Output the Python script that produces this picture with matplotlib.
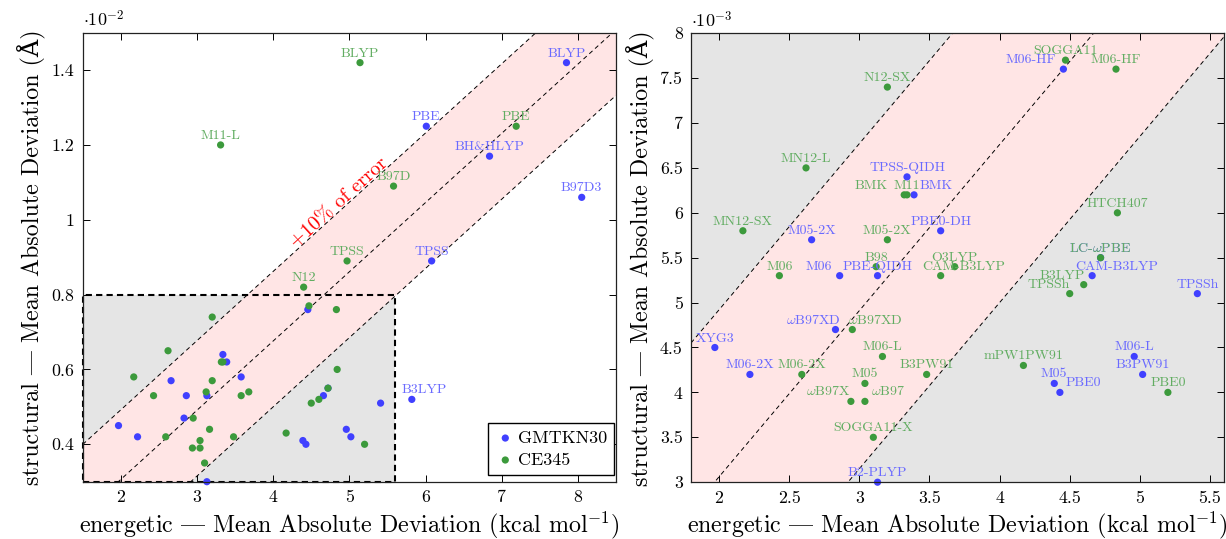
import numpy as np
import matplotlib
matplotlib.use("Agg")
import matplotlib.pyplot as plt
from matplotlib.patches import Rectangle
from matplotlib.ticker import FuncFormatter

plt.rcParams['font.family'] = ['cmr10', 'DejaVu Serif']
plt.rcParams['mathtext.fontset'] = 'cm'
plt.rcParams['axes.unicode_minus'] = False

# GMTKN30 (blue): energetic MAD (kcal/mol), structural MAD (Angstrom)
gm_names = ['BLYP', 'PBE', 'BH&HLYP', 'B97D3', 'TPSS', 'B3LYP', 'M06-HF',
            'TPSS-QIDH', 'BMK', 'PBE0-DH', 'M05-2X', 'LC-ωPBE', 'M06',
            'PBE-QIDH', 'CAM-B3LYP', 'TPSSh', 'ωB97XD', 'XYG3', 'M06-L',
            'M06-2X', 'B3PW91', 'M05', 'PBE0', 'B2-PLYP']
gm_energy = [7.85, 6.01, 6.84, 8.05, 6.08, 5.82, 4.455,
             3.34, 3.39, 3.58, 2.66, 4.72, 2.86,
             3.13, 4.66, 5.41, 2.83, 1.97, 4.96,
             2.22, 5.02, 4.39, 4.43, 3.13]
gm_struct = [0.0142, 0.0125, 0.0117, 0.0106, 0.0089, 0.0052, 0.0076,
             0.0064, 0.0062, 0.0058, 0.0057, 0.0055, 0.0053,
             0.0053, 0.0053, 0.0051, 0.0047, 0.0045, 0.0044,
             0.0042, 0.0042, 0.0041, 0.0040, 0.0030]

# CE345 (green)
ce_names = ['BLYP', 'PBE', 'M11-L', 'B97D', 'TPSS', 'N12', 'SOGGA11',
            'M06-HF', 'N12-SX', 'MN12-L', 'BMK', 'M11', 'HTCH407',
            'MN12-SX', 'M05-2X', 'LC-ωPBE', 'B98', 'O3LYP', 'M06',
            'CAM-B3LYP', 'B3LYP', 'TPSSh', 'ωB97XD', 'M06-L', 'mPW1PW91',
            'M06-2X', 'B3PW91', 'M05', 'PBE0', 'ωB97X', 'ωB97', 'SOGGA11-X']
ce_energy = [5.14, 7.19, 3.31, 5.58, 4.97, 4.40, 4.47,
             4.83, 3.20, 2.62, 3.32, 3.34, 4.84,
             2.17, 3.20, 4.72, 3.12, 3.68, 2.43,
             3.58, 4.60, 4.50, 2.95, 3.165, 4.17,
             2.59, 3.48, 3.04, 5.20, 2.94, 3.04, 3.10]
ce_struct = [0.0142, 0.0125, 0.0120, 0.0109, 0.0089, 0.0082, 0.0077,
             0.0076, 0.0074, 0.0065, 0.0062, 0.0062, 0.0060,
             0.0058, 0.0057, 0.0055, 0.0054, 0.0054, 0.0053,
             0.0053, 0.0052, 0.0051, 0.0047, 0.0044, 0.0043,
             0.0042, 0.0042, 0.0041, 0.0040, 0.0039, 0.0039, 0.0035]

# dashed lines: structural = slope * energetic + intercept
band_slope = 0.00185
band_upper = 0.00122
band_mid = -0.00064
band_lower = -0.0024

# zoomed region shown on the right
box_x = (1.5, 5.6)
box_y = (0.003, 0.008)

BLUE_DOT, BLUE_TXT = '#4040ff', '#6a6aff'
GREEN_DOT, GREEN_TXT = '#3c9a3c', '#62ad62'
PINK, GRAY = '#ffe5e5', '#e5e5e5'

# labels that are not centred above their point: (ha, x shift in pixels)
label_shift = {
    ('GMTKN30', 'M06-HF'): ('right', -7),
    ('GMTKN30', 'BMK'): ('left', 6),
    ('GMTKN30', 'M06'): ('right', -8),
    ('GMTKN30', 'CAM-B3LYP'): ('left', -17),
    ('GMTKN30', 'ωB97XD'): ('right', 5),
    ('GMTKN30', 'PBE0'): ('left', 6),
    ('GMTKN30', 'B3LYP'): ('left', -10),
    ('CE345', 'BMK'): ('right', -17),
    ('CE345', 'M11'): ('center', 0),
    ('CE345', 'CAM-B3LYP'): ('left', -18),
    ('CE345', 'B3LYP'): ('right', 1),
    ('CE345', 'TPSSh'): ('right', 0),
    ('CE345', 'ωB97XD'): ('left', -4),
    ('CE345', 'ωB97X'): ('right', 0),
    ('CE345', 'ωB97'): ('left', 6),
}

# cmr10 keeps the TeX text encoding: '|' is the em dash glyph there
DASH = '|'


def draw_band(ax, x0, x1):
    xs = np.array([x0, x1])
    ax.fill_between(xs, band_slope * xs + band_lower, band_slope * xs + band_upper,
                    color=PINK, lw=0, zorder=1)
    for b in (band_upper, band_mid, band_lower):
        ax.plot(xs, band_slope * xs + b, color='k', lw=0.7, ls=(0, (4.5, 3.5)), zorder=2)


def draw_points(ax, series, names, ex, st, dot, txt, in_box_labels, xlim, ylim):
    ex = np.array(ex)
    st = np.array(st)
    keep = (ex >= xlim[0]) & (ex <= xlim[1]) & (st >= ylim[0] - 1e-9) & (st <= ylim[1])
    sc = ax.scatter(ex[keep], st[keep], s=27, color=dot, edgecolors='none',
                    zorder=4, clip_on=False, label=series)
    for n, x, y, k in zip(names, ex, st, keep):
        if not k:
            continue
        inside = box_x[0] <= x <= box_x[1] and box_y[0] <= y <= box_y[1]
        if inside != in_box_labels:
            continue
        ha, dx = label_shift.get((series, n), ('center', 0))
        ax.annotate(n.replace('ω', r'$\omega$'), (x, y), xytext=(dx, 6),
                    textcoords='offset pixels', ha=ha, va='baseline',
                    color=txt, fontsize=10, zorder=5)
    return sc


def style_axes(ax, scale, power):
    ax.tick_params(direction='in', top=True, right=True, length=5, width=0.7,
                   labelsize=12.8, pad=6)
    ax.yaxis.set_major_formatter(FuncFormatter(lambda v, p: '%g' % round(v / scale, 6)))
    ax.xaxis.set_major_formatter(FuncFormatter(lambda v, p: '%g' % round(v, 6)))
    for s in ax.spines.values():
        s.set_linewidth(0.9)
        s.set_color('#222222')
        s.set_zorder(6)
    ax.text(0.0, 1.014, r'$\cdot10^{-%d}$' % power, transform=ax.transAxes,
            fontsize=13, ha='left', va='baseline')
    ax.set_xlabel('energetic ' + DASH + r' Mean Absolute Deviation (kcal mol$^{-1}$)',
                  fontsize=17.3)
    ax.set_ylabel('structural ' + DASH + ' Mean Absolute Deviation (Å)', fontsize=17.3)
    ax.xaxis.set_label_coords(0.5, -0.061)
    ax.yaxis.set_label_coords(-0.068, 0.5)


fig = plt.figure(figsize=(12.26, 5.39), dpi=100)

# left: full range
ax1 = fig.add_axes([82.7 / 1226, 57.3 / 539, 533.3 / 1226, 449 / 539])
xl1, yl1 = (1.5, 8.5), (0.003, 0.015)
ax1.add_patch(Rectangle((box_x[0], box_y[0]), box_x[1] - box_x[0], box_y[1] - box_y[0],
                        facecolor=GRAY, edgecolor='none', zorder=0.5))
draw_band(ax1, xl1[0], xl1[1])
ax1.add_patch(Rectangle((box_x[0], box_y[0]), box_x[1] - box_x[0], box_y[1] - box_y[0],
                        fill=False, edgecolor='k', lw=1.5, ls=(0, (3, 2)), zorder=3,
                        clip_on=False))
h1 = draw_points(ax1, 'GMTKN30', gm_names, gm_energy, gm_struct, BLUE_DOT, BLUE_TXT,
                 False, xl1, yl1)
h2 = draw_points(ax1, 'CE345', ce_names, ce_energy, ce_struct, GREEN_DOT, GREEN_TXT,
                 False, xl1, yl1)
ax1.text(4.877, 0.01044, '+10% of error', color='red', fontsize=14.5, rotation=42.4,
         rotation_mode='anchor', ha='center', va='center', zorder=5)
ax1.set_xlim(xl1)
ax1.set_ylim(yl1)
ax1.set_xticks(range(2, 9))
ax1.set_yticks(np.arange(0.004, 0.0141, 0.002))
style_axes(ax1, 1e-2, 2)
leg = ax1.legend(handles=[h1, h2], loc='lower right', bbox_to_anchor=(0.997, 0.015),
                 borderaxespad=0, fontsize=13, frameon=True, fancybox=False,
                 edgecolor='k', framealpha=1, handletextpad=0.15, handlelength=1.1,
                 borderpad=0.4, labelspacing=0.35, scatterpoints=1)
leg.get_frame().set_linewidth(1.0)
leg.set_zorder(7)

# right: zoom of the grey box
ax2 = fig.add_axes([691 / 1226, 56.8 / 539, 533 / 1226, 449 / 539])
xl2, yl2 = (1.8, 5.6), (0.003, 0.008)
ax2.set_facecolor(GRAY)
draw_band(ax2, xl2[0], xl2[1])
draw_points(ax2, 'GMTKN30', gm_names, gm_energy, gm_struct, BLUE_DOT, BLUE_TXT,
            True, xl2, yl2)
draw_points(ax2, 'CE345', ce_names, ce_energy, ce_struct, GREEN_DOT, GREEN_TXT,
            True, xl2, yl2)
ax2.set_xlim(xl2)
ax2.set_ylim(yl2)
ax2.set_xticks(np.arange(2, 5.51, 0.5))
ax2.set_yticks(np.arange(0.003, 0.00801, 0.0005))
style_axes(ax2, 1e-3, 3)

fig.savefig('out.png', dpi=100)
